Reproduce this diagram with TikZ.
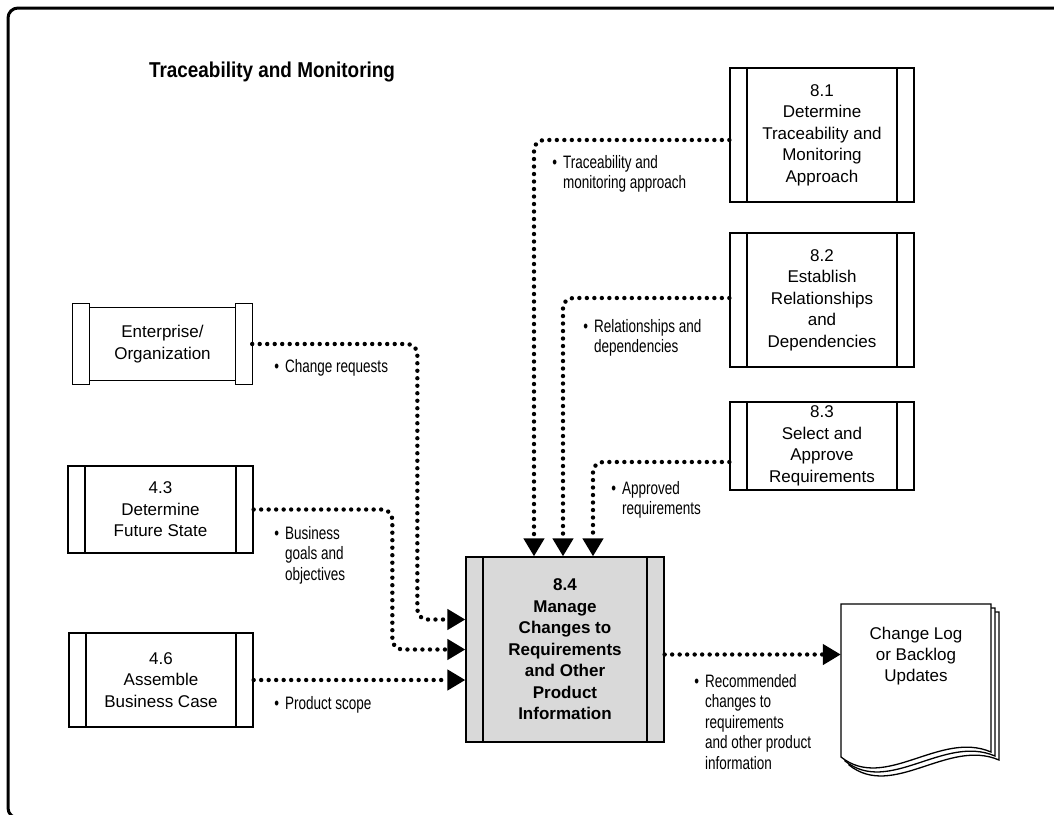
\documentclass[tikz,border=0pt]{standalone}
\usepackage{fontspec}
\setmainfont{Liberation Sans}
\newfontfamily\lblfont[FakeStretch=0.75]{Liberation Sans}
\newfontfamily\ttlfont[FakeStretch=0.88]{Liberation Sans}
\usetikzlibrary{arrows.meta}

\begin{document}
\begin{tikzpicture}[x=1pt,y=-1pt,
  task/.style={draw,line width=1.3pt,fill=white,align=center,inner sep=0pt,
    minimum width=184pt,font=\fontsize{17}{21.5}\selectfont,
    path picture={\draw[line width=1.3pt]
      ([xshift=17pt]path picture bounding box.north west) -- ([xshift=17pt]path picture bounding box.south west)
      ([xshift=-17pt]path picture bounding box.north east) -- ([xshift=-17pt]path picture bounding box.south east);}},
  flow/.style={line width=4.4pt,dash pattern=on 0pt off 7.5pt,line cap=round,rounded corners=10pt,
    -{Triangle[length=18pt,width=20pt]}},
  lbl/.style={anchor=north west,align=left,inner sep=0pt,font=\lblfont\fontsize{18}{20.5}\selectfont}]
\useasboundingbox (0,0) rectangle (1054,814);
\begin{scope}
\clip (0,0) rectangle (1054,814);
\draw[line width=3pt,rounded corners=10pt] (8,8) rectangle (1100,818);
\end{scope}

\node[font=\ttlfont\bfseries\fontsize{21.5}{25}\selectfont] (title) at (272,72) {Traceability and Monitoring};

% outside entity
\node[minimum width=179pt,minimum height=80pt,inner sep=0pt,align=center,
  font=\fontsize{17}{21.5}\selectfont] (ent) at (162.5,344) {Enterprise/\\Organization};
\draw[line width=1.3pt] (ent.north west) rectangle ([xshift=17pt]ent.south west)
  ([xshift=-17pt]ent.north east) rectangle (ent.south east)
  ([xshift=17pt,yshift=-4pt]ent.north west) rectangle ([xshift=-17pt,yshift=4pt]ent.south east);

% tasks
\node[task,minimum width=185pt,minimum height=87pt] (fs) at (160.5,509.5) {4.3\\Determine\\Future State};
\node[task,minimum height=94pt] (bc) at (161,680) {4.6\\Assemble\\Business Case};
\node[task,minimum height=134pt] (tr) at (822,135) {8.1\\Determine\\Traceability and\\Monitoring\\Approach};
\node[task,minimum height=134pt] (rel) at (822,300) {8.2\\Establish\\Relationships\\and\\Dependencies};
\node[task,minimum height=88pt] (app) at (822,446) {8.3\\Select and\\Approve\\Requirements};
\node[task,minimum width=198pt,minimum height=185pt,fill=black!15,
  font=\bfseries\fontsize{17}{21.5}\selectfont] (mc) at (565,649.5)
  {8.4\\Manage\\Changes to\\Requirements\\and Other\\Product\\Information};

% output document
\foreach \d in {8,4,0}
  \draw[line width=1.3pt,fill=white] (841+\d,604+\d) -- (991+\d,604+\d) -- (991+\d,752+\d)
    .. controls (940+\d,730+\d) and (885+\d,792+\d) .. (841+\d,757+\d) -- cycle;
\node[minimum width=150pt,minimum height=104pt,inner sep=0pt,align=center,
  font=\fontsize{17}{21}\selectfont] (log) at (916,656) {Change Log\\or Backlog\\Updates};

% flows
\draw[flow] ([yshift=-5pt]tr.west) -| ([xshift=-31pt]mc.north);
\draw[flow] ([yshift=2pt]rel.west) -| ([xshift=-2pt]mc.north);
\draw[flow] ([yshift=-16pt]app.west) -| ([xshift=28pt]mc.north);
\draw[flow] (ent.east) -| ([xshift=-48pt,yshift=30pt]mc.west) -- ([yshift=30pt]mc.west);
\draw[flow] (fs.east) -| ([xshift=-73pt]mc.west) -- (mc.west);
\draw[flow] (bc.east) -- (bc.east -| mc.west);
\draw[flow] ([yshift=-5pt]mc.east) -- ([yshift=-5pt]mc.east -| log.west);

% labels
\node[lbl] (tml) at (563,155) {\llap{\textbullet\hspace{6pt}}Traceability and\\monitoring approach};
\node[lbl] (rdl) at (594,319) {\llap{\textbullet\hspace{6pt}}Relationships and\\dependencies};
\node[lbl] (arl) at (622,481) {\llap{\textbullet\hspace{6pt}}Approved\\requirements};
\node[lbl] (crl) at (285,359) {\llap{\textbullet\hspace{6pt}}Change requests};
\node[lbl] (bgl) at (285,526) {\llap{\textbullet\hspace{6pt}}Business\\goals and\\objectives};
\node[lbl] (psl) at (285,696) {\llap{\textbullet\hspace{6pt}}Product scope};
\node[lbl] (rcl) at (705,674) {\llap{\textbullet\hspace{6pt}}Recommended\\changes to\\requirements\\and other product\\information};
\end{tikzpicture}
\end{document}
